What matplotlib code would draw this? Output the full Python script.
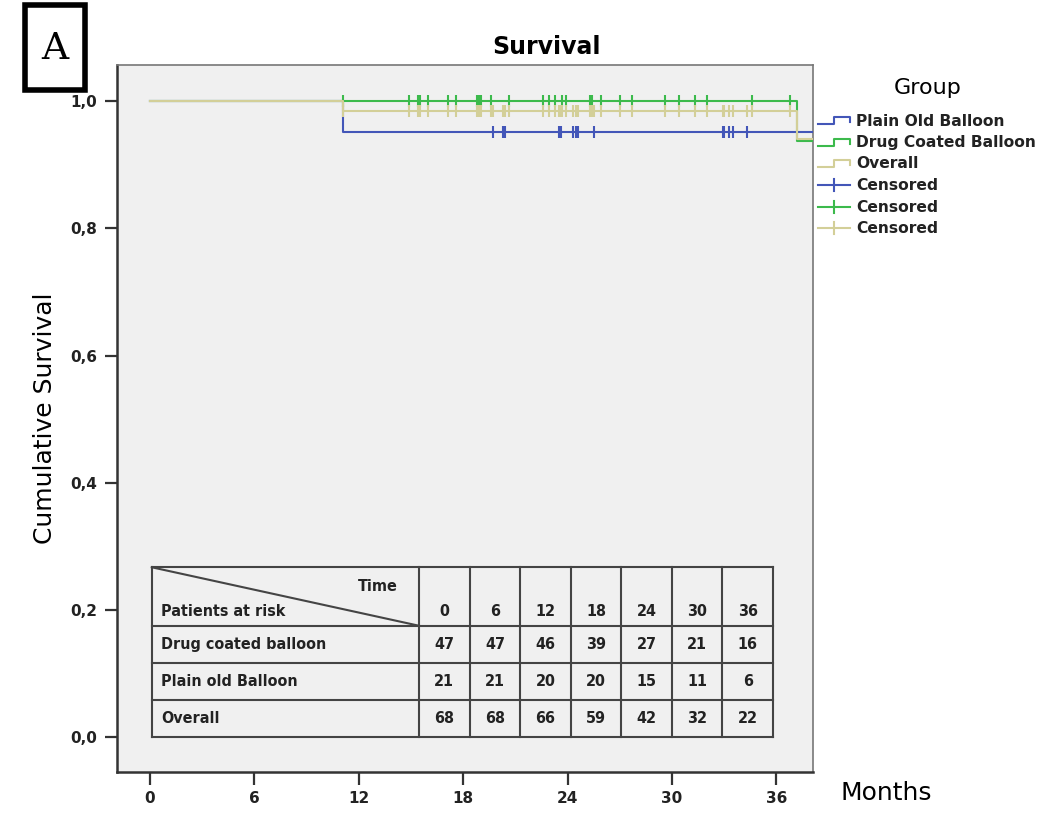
import matplotlib
matplotlib.use("Agg")
import matplotlib.pyplot as plt
from matplotlib.lines import Line2D
from matplotlib.patches import Rectangle

# step curves (months, cumulative survival)
dcb_time = [0, 37.2, 39]
dcb_surv = [1.0, 0.9375, 0.9375]
pob_time = [0, 11.1, 39]
pob_surv = [1.0, 0.952, 0.952]
all_time = [0, 11.1, 37.2, 39]
all_surv = [1.0, 0.9853, 0.940, 0.940]

# censored observations
dcb_cens = [11.1, 14.9, 15.4, 15.5, 16.0, 17.1, 17.6, 18.8, 18.9, 19.0, 19.6, 20.6,
            22.6, 22.9, 23.3, 23.7, 23.9, 25.3, 25.4, 25.9, 27.0, 27.7, 29.6,
            30.4, 31.3, 32.0, 34.6, 36.8]
pob_cens = [19.7, 20.3, 20.4, 23.5, 23.6, 24.3, 24.5, 24.6, 25.5,
            32.9, 33.0, 33.3, 33.5, 34.3]

# patients at risk table
risk_times = [0, 6, 12, 18, 24, 30, 36]
risk_rows = ["Drug coated balloon", "Plain old Balloon", "Overall"]
risk_dcb = [47, 47, 46, 39, 27, 21, 16]
risk_pob = [21, 21, 20, 20, 15, 11, 6]
risk_all = [68, 68, 66, 59, 42, 32, 22]

BLUE = "#4356b8"
GREEN = "#3cba4c"
TAN = "#d3cf98"
DARK = "#333333"

W, H = 1042, 834
fig = plt.figure(figsize=(W / 100, H / 100), dpi=100)
ax = fig.add_axes([117 / W, 1 - 772 / H, (813 - 117) / W, (772 - 65) / H])
ax.set_facecolor("#f0f0f0")


def step_at(times, surv, t):
    v = surv[0]
    for ti, si in zip(times, surv):
        if ti <= t:
            v = si
    return v


ax.step(pob_time, pob_surv, where="post", color=BLUE, lw=1.5, zorder=3)
ax.step(dcb_time, dcb_surv, where="post", color=GREEN, lw=1.5, zorder=4)
ax.step(all_time, all_surv, where="post", color=TAN, lw=1.5, zorder=5)

all_cens = sorted(dcb_cens + pob_cens)
ax.plot(pob_cens, [step_at(pob_time, pob_surv, t) for t in pob_cens], ls="none",
        marker="|", ms=9, mew=1.5, color=BLUE, zorder=3)
ax.plot(dcb_cens, [step_at(dcb_time, dcb_surv, t) for t in dcb_cens], ls="none",
        marker="|", ms=9, mew=1.5, color=GREEN, zorder=4)
ax.plot(all_cens, [step_at(all_time, all_surv, t) for t in all_cens], ls="none",
        marker="|", ms=9, mew=1.5, color=TAN, zorder=5)

ax.set_xlim(-1.9, 38.1)
ax.set_ylim(-0.055, 1.057)
ax.set_xticks(risk_times)
ax.set_yticks([0, 0.2, 0.4, 0.6, 0.8, 1.0])
ax.set_yticklabels(["0,0", "0,2", "0,4", "0,6", "0,8", "1,0"])
ax.tick_params(direction="out", length=9, width=1.6, color=DARK, pad=5)
for lab in ax.get_xticklabels() + ax.get_yticklabels():
    lab.set_fontweight("bold")
    lab.set_fontsize(11)
    lab.set_color("#222222")
for side in ["left", "bottom"]:
    ax.spines[side].set_linewidth(1.8)
    ax.spines[side].set_color(DARK)
for side in ["top", "right"]:
    ax.spines[side].set_linewidth(1.2)
    ax.spines[side].set_color("#777777")
ax.set_ylabel("Cumulative Survival", fontsize=18, labelpad=10)

# patients at risk table (data coordinates)
tfont = dict(family="DejaVu Sans", fontstretch="condensed", fontweight="bold",
             fontsize=11.5, color="#222222")
x_left, x_first = 0.1, 15.46
col_w = (35.8 - x_first) / len(risk_times)
x_cols = [x_first + i * col_w for i in range(len(risk_times) + 1)]
y_rows = [0.267, 0.175, 0.116, 0.058, 0.0]
lk = dict(color="#444444", lw=1.5, zorder=6)
for y in y_rows:
    ax.plot([x_left, x_cols[-1]], [y, y], **lk)
for x in [x_left] + x_cols:
    ax.plot([x, x], [y_rows[0], y_rows[-1]], **lk)
ax.plot([x_left, x_first], [y_rows[0], y_rows[1]], **lk)
ax.text(x_first - 1.2, 0.236, "Time", ha="right", va="center", **tfont)
ax.text(x_left + 0.55, 0.198, "Patients at risk", ha="left", va="center", **tfont)
for i, t in enumerate(risk_times):
    xc = (x_cols[i] + x_cols[i + 1]) / 2
    ax.text(xc, 0.198, str(t), ha="center", va="center", **tfont)
    for r, vals in enumerate([risk_dcb, risk_pob, risk_all]):
        yc = (y_rows[r + 1] + y_rows[r + 2]) / 2
        ax.text(xc, yc, str(vals[i]), ha="center", va="center", **tfont)
for r, name in enumerate(risk_rows):
    yc = (y_rows[r + 1] + y_rows[r + 2]) / 2
    ax.text(x_left + 0.55, yc, name, ha="left", va="center", **tfont)


def fx(x):
    return x / W


def fy(y):
    return 1 - y / H


fig.text(fx(547), fy(47), "Survival", ha="center", va="center", fontsize=17, fontweight="bold")
fig.text(fx(886), fy(793), "Months", ha="center", va="center", fontsize=18)

# panel letter
fig.add_artist(Rectangle((fx(25), fy(90)), fx(60), 85 / H, fill=False, lw=4,
                         edgecolor="black", transform=fig.transFigure))
fig.text(fx(55), fy(49), "A", ha="center", va="center", fontsize=27,
         family="DejaVu Serif")

# legend
fig.text(fx(928), fy(88), "Group", ha="center", va="center", fontsize=16)
leg_y = [121, 143, 164, 185, 207, 228]
leg_lab = ["Plain Old Balloon", "Drug Coated Balloon", "Overall",
           "Censored", "Censored", "Censored"]
leg_col = [BLUE, GREEN, TAN, BLUE, GREEN, TAN]
for i, (y, lab, c) in enumerate(zip(leg_y, leg_lab, leg_col)):
    if i < 3:
        xs = [818, 834, 834, 850, 850]
        ys = [y + 3, y + 3, y - 4, y - 4, y + 1]
    else:
        xs = [818, 850]
        ys = [y, y]
        fig.add_artist(Line2D([fx(834), fx(834)], [fy(y - 6), fy(y + 6)], color=c,
                              lw=1.5, transform=fig.transFigure))
    fig.add_artist(Line2D([fx(v) for v in xs], [fy(v) for v in ys], color=c, lw=1.5,
                          transform=fig.transFigure))
    fig.text(fx(856), fy(y), lab, ha="left", va="center", fontsize=11.2,
             fontweight="bold", color="#222222")

fig.savefig("out.png", dpi=100, facecolor="white")
